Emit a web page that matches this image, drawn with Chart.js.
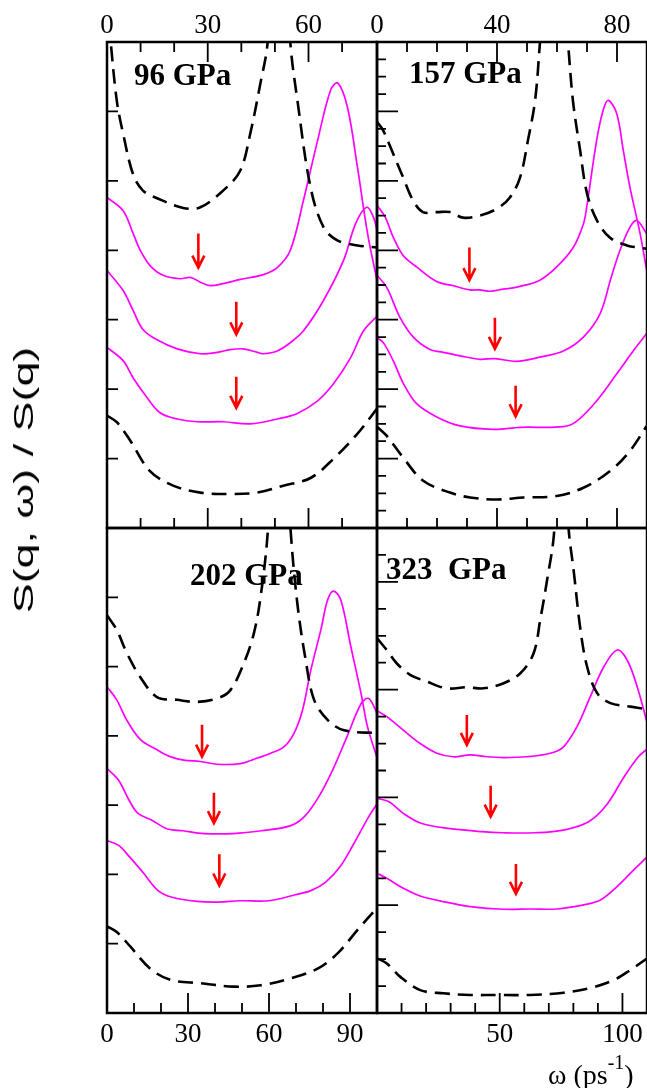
<!DOCTYPE html>
<html>
<head>
<meta charset="utf-8">
<script src="https://cdn.jsdelivr.net/npm/chart.js@4.4.1/dist/chart.umd.min.js"></script>
<style>
  html, body { margin: 0; padding: 0; background: #fff; }
  #fig { position: relative; width: 647px; height: 1088px; overflow: hidden; }
  #fig canvas { position: absolute; left: 0; top: 0; }
  .lbl { position: absolute; white-space: pre; line-height: 1; color: #000; }
  .ttl { font: bold 31px 'Liberation Serif', serif; }
</style>
</head>
<body>
<div id="fig">
  <canvas id="c96" width="647" height="1088"></canvas>
  <canvas id="c157" width="647" height="1088"></canvas>
  <canvas id="c202" width="647" height="1088"></canvas>
  <canvas id="c323" width="647" height="1088"></canvas>

  <div class="lbl ttl" style="left:134px;top:57px">96 GPa</div>
  <div class="lbl ttl" style="left:409px;top:55px">157 GPa</div>
  <div class="lbl ttl" style="left:190px;top:557px">202 GPa</div>
  <div class="lbl ttl" style="left:386px;top:551px">323  GPa</div>

  <div class="lbl" style="left:23.5px;top:480px;font:28px 'Liberation Sans', sans-serif;transform:translate(-50%,-50%) rotate(-90deg) scaleX(1.6)">S(q, ω) / S(q)</div>
  <div class="lbl" style="left:548px;top:1059px;font:28px 'Liberation Serif', serif">ω (ps<span style="font-size:20px;position:relative;top:-15px">-1</span>)</div>
</div>

<script>
// ---- tick labels on the omega axes ----
const ticks96 = [0, 30, 60];
const ticks157 = [0, 40, 80];
const ticks202 = [0, 30, 60, 90];
const ticks323 = [50, 100];

// ---- 96 GPa (top left), omega vs S ----
const dashTop96 = [[0,7.6],[1.1,7.0],[2.9,6.16],[4.8,5.68],[7.8,5.09],[10.7,4.86],[14.9,4.75],[22.7,4.61],[27.8,4.62],[34.6,4.86],[39.7,5.15],[42.7,5.69],[45.7,6.41],[47.8,6.98],[51.2,9.5],[54.6,6.98],[56.7,6.16],[60.6,4.91],[64.5,4.33],[68.7,4.14],[74.6,4.07],[80.6,4.04]];
const mag1_96 = [[0,4.76],[4.8,4.57],[7.8,4.24],[9.9,4.0],[12.8,3.78],[16.7,3.64],[21.8,3.59],[24.8,3.61],[27.8,3.54],[30.7,3.49],[34.6,3.52],[39.7,3.58],[46.6,3.65],[50.7,3.75],[54.6,4.0],[58.5,4.72],[62.7,5.58],[66.6,6.31],[68.7,6.41],[71.6,6.06],[74.6,5.19],[77.6,4.24],[80.6,3.52]];
const mag2_96 = [[0,3.71],[4.8,3.42],[7.8,3.13],[10.7,2.86],[14.9,2.71],[20.9,2.58],[27.8,2.51],[32.8,2.53],[36.7,2.57],[40.6,2.58],[44.8,2.53],[46.6,2.51],[50.7,2.55],[54.6,2.67],[58.5,2.84],[64.5,3.28],[70.4,3.85],[74.0,4.38],[77.3,4.62],[79.4,4.47],[80.6,4.24]];
const mag3_96 = [[0,2.60],[4.8,2.41],[7.8,2.16],[11.9,1.88],[15.8,1.66],[20.9,1.57],[26.9,1.53],[34.6,1.53],[42.7,1.50],[50.7,1.57],[56.7,1.65],[62.7,1.83],[67.5,2.08],[72.5,2.45],[76.4,2.84],[80.6,3.06]];
const dashBot96 = [[0,1.62],[3.0,1.52],[6.9,1.26],[12.8,0.82],[19.7,0.61],[27.8,0.51],[36.7,0.49],[44.8,0.51],[52.5,0.61],[60.6,0.72],[67.5,1.0],[74.6,1.36],[80.6,1.73]];
const arrowX96 = [27.2, 38.5, 38.5];
const arrowTop96 = [4.24, 3.26, 2.18];
const arrowTip96 = [3.75, 2.79, 1.73];

// ---- 157 GPa (top right) ----
const dashTop157 = [[0,5.85],[2.0,5.73],[5.3,5.40],[8.7,5.05],[12.0,4.72],[15.3,4.55],[20.0,4.55],[24.3,4.55],[28.7,4.47],[34.3,4.50],[40.0,4.60],[44.3,4.76],[47.7,5.05],[50.3,5.58],[52.7,6.16],[54.3,6.98],[59.0,9.5],[63.7,6.98],[65.3,6.16],[67.7,5.44],[70.0,4.82],[73.3,4.43],[77.7,4.18],[83.3,4.07],[88.7,4.03],[90,4.02]];
const mag1_157 = [[0,4.65],[2.7,4.48],[5.4,4.19],[8.8,3.92],[13.2,3.76],[19.9,3.55],[25.4,3.49],[31.0,3.43],[34.3,3.43],[37.7,3.41],[42.1,3.44],[46.6,3.47],[54.3,3.57],[59.9,3.76],[65.4,4.04],[68.8,4.38],[69.9,4.62],[73.2,5.58],[75.4,6.02],[77.1,6.16],[79.9,5.97],[82.1,5.44],[84.3,4.91],[87.7,4.24],[89.9,3.71]];
const mag2_157 = [[0,3.64],[3.2,3.47],[7.7,3.03],[12.1,2.75],[17.7,2.57],[22.1,2.53],[27.7,2.48],[34.3,2.43],[39.3,2.44],[46.6,2.40],[53.2,2.45],[62.1,2.55],[68.8,2.75],[74.3,3.08],[78.0,3.6],[81.0,4.0],[84.3,4.33],[86.6,4.43],[89.9,4.24]];
const mag3_157 = [[0,2.74],[2.1,2.67],[5.4,2.41],[8.8,2.08],[13.2,1.79],[19.9,1.60],[27.7,1.47],[38.8,1.42],[47.7,1.45],[62.1,1.46],[66.6,1.54],[73.2,1.83],[79.9,2.22],[85.4,2.55],[89.9,2.80]];
const dashBot157 = [[0,1.46],[3.2,1.33],[8.8,1.01],[15.4,0.68],[24.3,0.51],[31.0,0.44],[39.9,0.41],[48.8,0.44],[59.9,0.46],[68.8,0.58],[77.7,0.82],[84.3,1.11],[89.9,1.47]];
const arrowX157 = [30.8, 39.3, 46.2];
const arrowTop157 = [4.04, 3.03, 2.05];
const arrowTip157 = [3.57, 2.58, 1.61];

// ---- 202 GPa (bottom left) ----
const dashTop202 = [[0,5.74],[3.6,5.53],[7.3,5.20],[12.3,4.85],[18.5,4.56],[25.9,4.52],[33.3,4.49],[40.8,4.54],[45.7,4.66],[50.7,5.05],[54.4,5.48],[56.9,6.01],[59.4,6.87],[64.0,9.5],[68.0,6.97],[70.5,5.91],[73.6,5.09],[76.7,4.52],[81.7,4.23],[87.8,4.08],[100.3,4.04]];
const mag1_202 = [[0,4.71],[3.6,4.52],[7.3,4.23],[12.3,3.95],[18.5,3.80],[23.4,3.70],[28.4,3.65],[34.6,3.63],[40.8,3.59],[49.4,3.60],[55.7,3.68],[60.6,3.75],[65.5,3.84],[69.3,4.04],[72.4,4.37],[75.5,4.95],[79.2,5.53],[81.7,5.96],[83.9,6.09],[86.6,5.96],[90.3,5.29],[94.1,4.61],[96.5,4.13],[100.3,3.65]];
const mag2_202 = [[0,3.53],[4.3,3.36],[8.2,3.07],[11.5,2.88],[16.8,2.78],[22.1,2.66],[28.1,2.63],[36.0,2.59],[46.6,2.59],[57.2,2.63],[67.8,2.70],[73.0,2.83],[78.4,3.12],[83.6,3.51],[88.9,3.99],[94.2,4.47],[96.9,4.54],[99.5,4.37],[100.3,4.28]];
const mag3_202 = [[0,2.49],[4.3,2.42],[8.2,2.26],[13.5,2.02],[18.8,1.77],[24.1,1.67],[33.4,1.61],[41.3,1.60],[49.3,1.62],[59.9,1.62],[69.1,1.70],[75.7,1.77],[81.0,1.89],[86.3,2.11],[91.5,2.45],[96.9,2.83],[100.2,3.03]];
const dashBot202 = [[0,1.25],[3.6,1.17],[8.6,0.96],[16.0,0.64],[23.4,0.48],[34.6,0.43],[47.0,0.38],[56.9,0.40],[68.0,0.50],[78.0,0.64],[85.4,0.86],[92.8,1.20],[100.3,1.53]];
const arrowX202 = [35.2, 39.6, 41.6];
const arrowTop202 = [4.16, 3.18, 2.29];
const arrowTip202 = [3.70, 2.74, 1.84];

// ---- 323 GPa (bottom right), finer y ticks ----
const dashTop323 = [[0,13.91],[4.0,13.47],[8.0,12.98],[13.5,12.55],[20.3,12.30],[28.4,12.05],[36.6,12.09],[43.4,12.05],[51.6,12.24],[58.4,12.61],[63.8,13.35],[66.5,14.59],[69.3,16.07],[72.0,17.68],[75.2,22],[78.1,17.93],[80.1,16.44],[82.9,14.22],[85.6,12.85],[89.7,11.87],[95.1,11.50],[103.3,11.37],[110.1,11.27]];
const mag1_323 = [[0,11.22],[4.0,11.0],[10.7,10.5],[17.6,10.0],[24.4,9.64],[31.1,9.51],[38.0,9.58],[44.8,9.51],[51.6,9.48],[61.1,9.51],[70.6,9.64],[76.0,9.88],[81.5,10.63],[86.9,11.74],[92.4,12.85],[97.8,13.47],[101.9,13.10],[106.0,12.11],[110.1,10.75]];
const mag2_323 = [[0,7.97],[4.9,7.84],[10.7,7.41],[18.0,7.04],[28.1,6.86],[42.7,6.73],[51.3,6.69],[64.4,6.69],[76.0,6.79],[86.2,7.10],[93.5,7.72],[100.7,8.77],[106.5,9.51],[110.1,9.8]];
const mag3_323 = [[0,5.19],[4.0,5.0],[10.7,4.63],[17.6,4.34],[27.1,4.13],[38.0,3.95],[51.6,3.85],[62.4,3.86],[73.3,3.86],[84.2,4.01],[91.0,4.19],[97.8,4.69],[104.6,5.31],[110.1,5.80]];
const dashBot323 = [[0,2.03],[4.0,1.84],[9.4,1.35],[17.6,0.85],[27.1,0.73],[38.0,0.67],[50.2,0.67],[62.4,0.67],[76.0,0.75],[86.9,0.93],[96.4,1.22],[103.3,1.60],[110.1,2.03]];
const arrowX323 = [36.6, 46.3, 56.6];
const arrowTop323 = [11.06, 8.43, 5.53];
const arrowTip323 = [9.95, 7.29, 4.42];

// frame, inward tick marks and red arrows, placed through the chart scales
const framePlugin = {
  id: 'frame',
  afterDatasetsDraw(chart, args, o) {
    const { ctx, chartArea: a } = chart;
    const xs = chart.scales.x, ys = chart.scales.y;
    ctx.save();
    ctx.strokeStyle = '#000';
    ctx.lineWidth = 1.8;
    ctx.beginPath();
    const isMajor = (v, m) => Math.abs(v / m - Math.round(v / m)) < 1e-6;
    for (let i = 1; i * o.xMinor < xs.max; i++) {
      const v = i * o.xMinor;
      const px = xs.getPixelForValue(v);
      if (px > a.right - 2) continue;
      const len = isMajor(v, o.xMajor) ? 20 : 10;
      if (o.xEdges.includes('top')) { ctx.moveTo(px, a.top); ctx.lineTo(px, a.top + len); }
      if (o.xEdges.includes('bottom')) { ctx.moveTo(px, a.bottom); ctx.lineTo(px, a.bottom - len); }
    }
    const yStep = o.yMinor || o.yMajor;
    for (let i = 1; i * yStep < ys.max; i++) {
      const v = i * yStep;
      const py = ys.getPixelForValue(v);
      if (py < a.top + 2) continue;
      const len = isMajor(v, o.yMajor) ? o.yMajorLen : o.yMinorLen;
      ctx.moveTo(a.left, py); ctx.lineTo(a.left + len, py);
    }
    ctx.stroke();

    ctx.lineWidth = 2.5;
    ctx.strokeRect(a.left, a.top, a.right - a.left, a.bottom - a.top);

    ctx.strokeStyle = '#ff0000';
    ctx.lineWidth = 2.6;
    o.arrows.x.forEach((ax, i) => {
      const px = xs.getPixelForValue(ax);
      const p1 = ys.getPixelForValue(o.arrows.top[i]);
      const p2 = ys.getPixelForValue(o.arrows.tip[i]);
      ctx.beginPath();
      ctx.moveTo(px, p1); ctx.lineTo(px, p2);
      ctx.moveTo(px - 6, p2 - 12); ctx.lineTo(px, p2); ctx.lineTo(px + 6, p2 - 12);
      ctx.stroke();
    });
    ctx.restore();
  }
};

function curve(pts, dashed) {
  return {
    data: pts.map(p => ({ x: p[0], y: p[1] })),
    borderColor: dashed ? '#000000' : '#ff00ff',
    borderWidth: dashed ? 2.6 : 1.7,
    borderDash: dashed ? [15, 8] : [],
    pointRadius: 0,
    fill: false,
    tension: 0.35
  };
}

function panel(id, curves, xMax, yMax, tickVals, top, padding, marks) {
  new Chart(document.getElementById(id), {
    type: 'line',
    data: { datasets: curves.map(c => curve(c[0], c[1])) },
    options: {
      responsive: false,
      animation: false,
      events: [],
      layout: { padding: padding },
      plugins: { legend: { display: false }, tooltip: { enabled: false }, frame: marks },
      scales: {
        x: {
          type: 'linear', min: 0, max: xMax,
          position: top ? 'top' : 'bottom',
          afterBuildTicks: s => { s.ticks = tickVals.map(v => ({ value: v })); },
          afterFit: s => { s.height = 42; s.paddingLeft = 0; s.paddingRight = 0; },
          grid: { display: false },
          border: { display: false },
          ticks: {
            color: '#000', autoSkip: false, maxRotation: 0,
            padding: top ? -8 : -2,
            font: { family: "'Liberation Serif', serif", size: 27 }
          }
        },
        y: { type: 'linear', min: 0, max: yMax, display: false }
      }
    },
    plugins: [framePlugin]
  });
}

panel('c96',
  [[dashTop96, true], [mag1_96, false], [mag2_96, false], [mag3_96, false], [dashBot96, true]],
  80.4, 7, ticks96, true, { left: 107, right: 270, top: 0, bottom: 560 },
  { xMinor: 10, xMajor: 30, xEdges: ['top', 'bottom'], yMinor: 0, yMajor: 1, yMajorLen: 11, yMinorLen: 0,
    arrows: { x: arrowX96, top: arrowTop96, tip: arrowTip96 } });

panel('c157',
  [[dashTop157, true], [mag1_157, false], [mag2_157, false], [mag3_157, false], [dashBot157, true]],
  90, 7, ticks157, true, { left: 377, right: 0, top: 0, bottom: 560 },
  { xMinor: 10, xMajor: 40, xEdges: ['top', 'bottom'], yMinor: 0.25, yMajor: 1, yMajorLen: 21, yMinorLen: 9,
    arrows: { x: arrowX157, top: arrowTop157, tip: arrowTip157 } });

panel('c202',
  [[dashTop202, true], [mag1_202, false], [mag2_202, false], [mag3_202, false], [dashBot202, true]],
  100, 7, ticks202, false, { left: 107, right: 270, top: 528, bottom: 33 },
  { xMinor: 10, xMajor: 30, xEdges: ['bottom'], yMinor: 0, yMajor: 1, yMajorLen: 11, yMinorLen: 0,
    arrows: { x: arrowX202, top: arrowTop202, tip: arrowTip202 } });

panel('c323',
  [[dashTop323, true], [mag1_323, false], [mag2_323, false], [mag3_323, false], [dashBot323, true]],
  110, 18, ticks323, false, { left: 377, right: 0, top: 528, bottom: 33 },
  { xMinor: 10, xMajor: 50, xEdges: ['bottom'], yMinor: 1, yMajor: 4, yMajorLen: 21, yMinorLen: 9,
    arrows: { x: arrowX323, top: arrowTop323, tip: arrowTip323 } });
</script>
</body>
</html>
